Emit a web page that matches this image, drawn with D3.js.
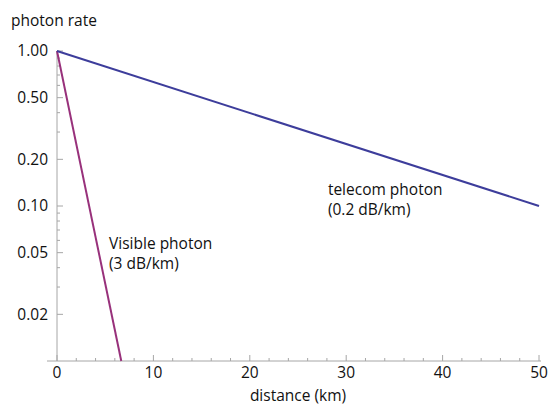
<!DOCTYPE html>
<html>
<head>
<meta charset="utf-8">
<script src="https://cdn.jsdelivr.net/npm/d3@7"></script>
<style>
  body { margin: 0; background: #fff; }
  text { font-family: "Open Sans", sans-serif; fill: #111; }
</style>
</head>
<body>
<div class="chart"></div>
<script>
// data
const distanceDomain = [0, 50];
const rateDomain = [0.01, 1];
const xTicks = [0, 10, 20, 30, 40, 50];
const xMinorTicks = [2, 4, 6, 8, 12, 14, 16, 18, 22, 24, 26, 28, 32, 34, 36, 38, 42, 44, 46, 48];
const yTicks = [1, 0.5, 0.2, 0.1, 0.05, 0.02];
const yTickLabels = ["1.00", "0.50", "0.20", "0.10", "0.05", "0.02"];
const yMinorTicks = [0.9, 0.8, 0.7, 0.6, 0.4, 0.3, 0.09, 0.08, 0.07, 0.06, 0.04, 0.03];
// line end points (distance km, photon rate)
const telecomPoints = [[0, 1], [50, 0.1]];
const visiblePoints = [[0, 1], [6.667, 0.01]];

const W = 550, H = 406;
const margin = { top: 51, right: 11, bottom: 45, left: 57 };
const fs = 15.5;

const svg = d3.select(".chart").append("svg")
  .attr("width", W).attr("height", H);

const x = d3.scaleLinear().domain(distanceDomain).range([margin.left, W - margin.right]);
const y = d3.scaleLog().domain(rateDomain).range([H - margin.bottom, margin.top]);

const axisColor = "#a6a6a6";
const g = svg.append("g");

// y axis line
g.append("line")
  .attr("x1", x(0)).attr("x2", x(0))
  .attr("y1", y(1)).attr("y2", y(0.01))
  .attr("stroke", axisColor).attr("stroke-width", 1);
// x axis line
g.append("line")
  .attr("x1", x(0) - 10).attr("x2", x(50) + 2)
  .attr("y1", y(0.01)).attr("y2", y(0.01))
  .attr("stroke", axisColor).attr("stroke-width", 1);

// y ticks
g.selectAll(".ymaj").data(yTicks).join("line")
  .attr("x1", x(0)).attr("x2", x(0) + 6)
  .attr("y1", d => y(d)).attr("y2", d => y(d))
  .attr("stroke", axisColor);
g.selectAll(".ymin").data(yMinorTicks).join("line")
  .attr("class", "ymin")
  .attr("x1", x(0)).attr("x2", x(0) + 3)
  .attr("y1", d => y(d)).attr("y2", d => y(d))
  .attr("stroke", axisColor);
g.selectAll(".ylab").data(yTicks).join("text")
  .attr("class", "ylab")
  .attr("x", x(0) - 9)
  .attr("y", d => y(d))
  .attr("dy", "0.35em")
  .attr("text-anchor", "end")
  .attr("font-size", fs)
  .text((d, i) => yTickLabels[i]);

// x ticks
g.selectAll(".xmaj").data(xTicks).join("line")
  .attr("class", "xmaj")
  .attr("x1", d => x(d)).attr("x2", d => x(d))
  .attr("y1", y(0.01)).attr("y2", y(0.01) - 6)
  .attr("stroke", axisColor);
g.selectAll(".xmin").data(xMinorTicks).join("line")
  .attr("class", "xmin")
  .attr("x1", d => x(d)).attr("x2", d => x(d))
  .attr("y1", y(0.01)).attr("y2", y(0.01) - 3)
  .attr("stroke", axisColor);
g.selectAll(".xlab").data(xTicks).join("text")
  .attr("class", "xlab")
  .attr("x", d => x(d))
  .attr("y", y(0.01) + 17)
  .attr("text-anchor", "middle")
  .attr("font-size", fs)
  .text(d => d);

// axis titles
svg.append("text").attr("x", 11).attr("y", 26).attr("font-size", fs).text("photon rate");
svg.append("text").attr("x", 298).attr("y", 401).attr("text-anchor", "middle")
  .attr("font-size", fs).text("distance (km)");

// lines
const line = d3.line().x(d => x(d[0])).y(d => y(d[1]));
svg.append("path").datum(visiblePoints)
  .attr("fill", "none").attr("stroke", "#98317b").attr("stroke-width", 2)
  .attr("d", line);
svg.append("path").datum(telecomPoints)
  .attr("fill", "none").attr("stroke", "#3d3d9b").attr("stroke-width", 2)
  .attr("d", line);

// annotations
const ann = [
  { x: 28.1, y: 0.117, lines: ["telecom photon", "(0.2 dB/km)"] },
  { x: 5.4, y: 0.0528, lines: ["Visible photon", "(3 dB/km)"] }
];
ann.forEach(a => {
  const t = svg.append("text").attr("font-size", fs);
  a.lines.forEach((s, i) => {
    t.append("tspan").attr("x", x(a.x)).attr("y", y(a.y) + i * 20).text(s);
  });
});
</script>
</body>
</html>
